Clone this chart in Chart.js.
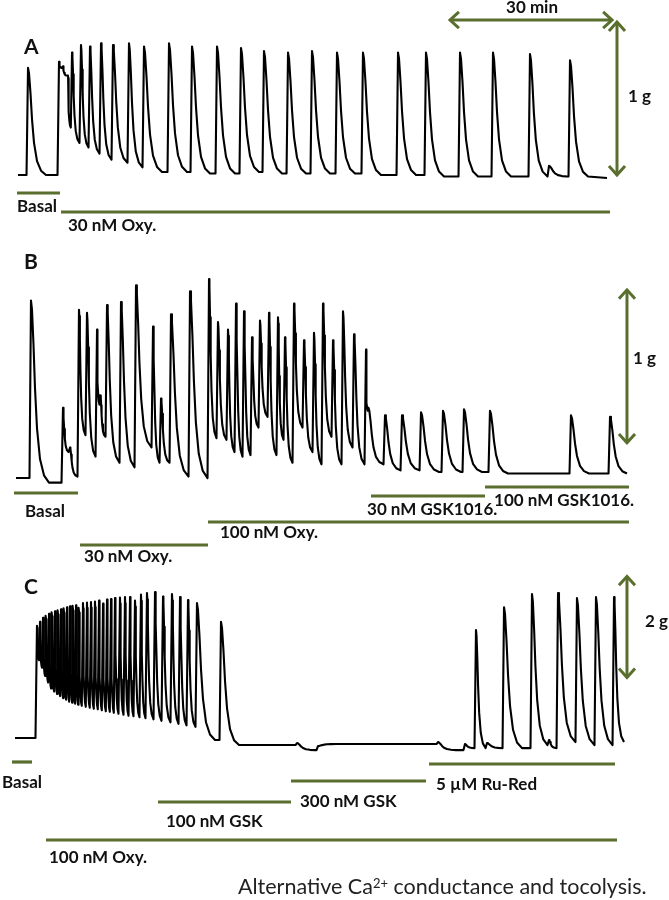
<!DOCTYPE html>
<html><head><meta charset="utf-8">
<script src="https://cdn.jsdelivr.net/npm/chart.js@4.4.0/dist/chart.umd.min.js"></script>
<style>
html,body{margin:0;padding:0;background:#fff;}
#wrap{position:relative;width:669px;height:900px;overflow:hidden;background:#fff;}
canvas{position:absolute;left:0;}
#caption{position:absolute;left:238px;top:873px;font-family:Lato,"Open Sans",sans-serif;font-size:21.5px;color:#222;white-space:nowrap;line-height:26px;}
#caption sup{font-size:13px;vertical-align:top;position:relative;top:-3px;}
</style></head><body>
<div id="wrap">
<canvas id="cA" width="669" height="245" style="top:0px"></canvas>
<canvas id="cB" width="669" height="320" style="top:245px"></canvas>
<canvas id="cC" width="669" height="335" style="top:565px"></canvas>
<div id="caption">Alternative Ca<sup>2+</sup> conductance and tocolysis.</div>
</div>
<script>
// ===================== DATA (time in min, force in g) =====================
// Panel A
const aStart = [0.56, 0.00];
const aEnd = [109.63, -0.02];
const aPeakTime = [2.41, 8.15, 8.89, 9.81, 10.56, 12.22, 13.89, 15.93, 18.15, 21.11, 23.89, 28.52, 32.78, 37.41, 41.85, 46.11, 50.56, 55.00, 59.63, 64.44, 70.93, 76.11, 82.41, 88.52, 95.37, 98.89, 102.78];
const aPeakForce = [0.70, 0.74, 0.71, 0.65, 0.80, 0.85, 0.84, 0.86, 0.85, 0.86, 0.84, 0.86, 0.84, 0.84, 0.83, 0.81, 0.80, 0.81, 0.80, 0.80, 0.80, 0.80, 0.80, 0.80, 0.79, 0.06, 0.75];
const aTroughForce = [0.00, 0.70, 0.65, 0.31, 0.21, 0.18, 0.14, 0.10, 0.08, 0.05, 0.02, 0.02, 0.01, 0.01, 0.02, 0.01, 0.01, 0.01, 0.01, 0.00, 0.00, -0.01, -0.01, -0.01, -0.01, -0.01, -0.01];
const aTreatNames = ['Basal', '30 nM Oxy.'];
const aTreatStart = [0.37, 8.52];
const aTreatEnd = [8.33, 110.19];
const aScaleNames = ['30 min', '1 g'];
const aScaleX0 = [80.56, 111.48];
const aScaleX1 = [110.56, 111.48];
const aScaleY0 = [1.013, 0];
const aScaleY1 = [1.013, 1];

// Panel B
const bStart = [0.19, -0.02];
const bEnd = [113.33, 0.01];
const bPeakTime = [2.96, 8.89, 10.19, 11.85, 13.33, 15.19, 15.83, 17.04, 19.63, 22.41, 25.56, 27.04, 28.89, 32.41, 35.93, 37.59, 39.44, 40.93, 42.41, 43.89, 45.37, 47.04, 48.70, 50.00, 51.67, 53.52, 55.37, 57.04, 58.89, 60.74, 62.78, 65.00, 65.46, 68.52, 71.67, 75.19, 79.26, 83.15, 87.96, 102.96, 110.19];
const bPeakForce = [1.14, 0.44, 0.18, 1.08, 1.06, 0.95, 0.52, 1.11, 1.13, 1.24, 0.97, 0.50, 1.05, 1.20, 1.28, 1.00, 0.95, 1.12, 1.07, 0.90, 1.01, 1.06, 1.03, 0.90, 1.12, 0.88, 0.93, 1.12, 0.88, 1.07, 0.92, 0.82, 0.44, 0.39, 0.39, 0.41, 0.42, 0.43, 0.42, 0.39, 0.38];
const bTroughForce = [-0.05, 0.15, -0.01, 0.26, 0.12, 0.46, 0.25, 0.08, 0.05, 0.18, 0.08, 0.08, -0.01, -0.02, 0.24, 0.23, 0.15, 0.12, 0.13, 0.31, 0.38, 0.13, 0.23, 0.08, 0.31, 0.15, 0.07, 0.25, 0.07, 0.18, 0.07, 0.42, 0.07, 0.03, 0.03, 0.02, 0.02, 0.02, 0.01, 0.01, 0.01];
const bTreatNames = ['Basal', '30 nM Oxy.', '100 nM Oxy.', '30 nM GSK1016.', '100 nM GSK1016.'];
const bTreatStart = [-0.19, 12.04, 35.74, 65.93, 87.04];
const bTreatEnd = [11.67, 35.74, 113.70, 87.04, 113.70];
const bScaleNames = ['1 g'];
const bScaleX0 = [113.33];
const bScaleX1 = [113.33];
const bScaleY0 = [0.21];
const bScaleY1 = [1.21];

// Panel C
const cStart = [0.00, 0.00];
const cEnd = [112.78, -0.08];
const cPeakTime = [4.07, 4.63, 5.19, 5.74, 6.30, 6.85, 7.41, 7.96, 8.52, 9.07, 9.63, 10.19, 10.74, 11.30, 11.85, 12.59, 13.33, 14.07, 14.81, 15.56, 16.30, 17.04, 17.78, 18.52, 19.44, 20.37, 21.30, 22.22, 23.33, 24.44, 25.93, 27.41, 29.07, 30.56, 32.04, 33.70, 38.15, 52.22, 56.11, 78.33, 83.33, 85.37, 87.41, 90.56, 95.74, 98.89, 100.56, 104.07, 107.59, 110.93];
const cPeakForce = [2.22, 2.30, 2.38, 2.42, 2.46, 2.49, 2.51, 2.53, 2.55, 2.57, 2.59, 2.61, 2.62, 2.63, 2.58, 2.67, 2.68, 2.69, 2.70, 2.72, 2.66, 2.74, 2.75, 2.77, 2.78, 2.79, 2.79, 2.72, 2.84, 2.87, 2.89, 2.80, 2.85, 2.79, 2.73, 2.67, 2.30, -0.10, -0.16, -0.08, -0.12, 2.14, -0.10, 2.59, 2.85, -0.04, 2.87, 2.77, 2.79, 2.79];
const cTroughForce = [1.54, 1.39, 1.23, 1.10, 0.98, 0.92, 0.87, 0.83, 0.79, 0.76, 0.72, 0.70, 0.68, 0.66, 0.64, 0.62, 0.60, 0.58, 0.57, 0.55, 0.53, 0.52, 0.50, 0.48, 0.46, 0.44, 0.43, 0.41, 0.39, 0.37, 0.34, 0.31, 0.28, 0.25, 0.22, -0.04, -0.14, -0.24, -0.12, -0.24, -0.20, -0.20, -0.20, -0.20, -0.14, -0.20, -0.08, -0.14, -0.14, -0.08];
const cTreatNames = ['Basal', '100 nM Oxy.', '100 nM GSK', '300 nM GSK', '5 \u00B5M Ru-Red'];
const cTreatStart = [-0.56, 5.74, 26.48, 51.11, 76.67];
const cTreatEnd = [3.15, 111.48, 51.11, 76.11, 111.11];
const cScaleNames = ['2 g'];
const cScaleX0 = [113.33];
const cScaleX1 = [113.33];
const cScaleY0 = [1.2];
const cScaleY1 = [3.2];

// ===================== LAYOUT / STYLE =====================
const PX_PER_MIN = 5.4;          // horizontal time scale shared by all panels
const X_MIN = -15 / PX_PER_MIN;
const X_MAX = (669 - 15) / PX_PER_MIN;
const GREEN = '#5a6f2e';
const INK = '#000000';
const LABEL_FONT = 'bold 17px Lato, "Open Sans", sans-serif';
const LETTER_FONT = 'bold 21px Lato, "Open Sans", sans-serif';

const panels = [
  { id:'cA', top:0, height:245, basePx:175, pxPerUnit:153, letter:['A',24,47],
    trace:[aPeakTime,aPeakForce,aTroughForce,aStart,aEnd],
    treat:[aTreatNames,aTreatStart,aTreatEnd], lanes:[193,212], lblDx:[0,7], lblDy:[14,14],
    scale:[aScaleNames,aScaleX0,aScaleX1,aScaleY0,aScaleY1], sDx:[1,11], sDy:[-12,-2], sAlign:['center','left'] },
  { id:'cB', top:245, height:320, basePx:475, pxPerUnit:153, letter:['B',24,262],
    trace:[bPeakTime,bPeakForce,bTroughForce,bStart,bEnd],
    treat:[bTreatNames,bTreatStart,bTreatEnd], lanes:[493,545,522,496,487], lblDx:[11,4,12,-4,9], lblDy:[19,12,11,14,14],
    scale:[bScaleNames,bScaleX0,bScaleX1,bScaleY0,bScaleY1], sDx:[6], sDy:[-8], sAlign:['left'] },
  { id:'cC', top:565, height:335, basePx:738, pxPerUnit:50.5, letter:['C',24,587],
    trace:[cPeakTime,cPeakForce,cTroughForce,cStart,cEnd],
    treat:[cTreatNames,cTreatStart,cTreatEnd], lanes:[762,840,802,781,764], lblDx:[-10,3,8,9,7], lblDy:[21,18,20,21,21],
    scale:[cScaleNames,cScaleX0,cScaleX1,cScaleY0,cScaleY1], sDx:[18], sDy:[-5], sAlign:['left'] }
];

// contraction waveform: sharp rise, fast then slow relaxation to the read trough level
function buildTrace(times, peaks, troughs, start, end) {
  const riseMax = 1.5 / PX_PER_MIN;
  const offs = [1, 2.5, 4, 6, 9, 13, 18].map(v => v / PX_PER_MIN);
  const fr = [0.95, 0.76, 0.52, 0.30, 0.13, 0.04, 0];
  const full = offs[offs.length - 1];
  const pts = [{x:start[0], y:start[1]}];
  let prev = start[1];
  for (let i = 0; i < times.length; i++) {
    const tp = times[i], P = peaks[i], T = troughs[i];
    const gapPrev = i > 0 ? tp - times[i-1] : tp - start[0];
    const rise = Math.min(riseMax, 0.3 * gapPrev);
    pts.push({x:tp - rise, y:prev});
    pts.push({x:tp, y:P});
    let nextStart;
    if (i < times.length - 1) {
      const g = times[i+1] - tp;
      nextStart = times[i+1] - Math.min(riseMax, 0.3 * g);
    } else nextStart = end[0];
    const k = Math.min(1, (nextStart - tp) / full);
    for (let j = 0; j < offs.length; j++) pts.push({x:tp + offs[j]*k, y:T + (P - T)*fr[j]});
    prev = T;
  }
  pts.push({x:end[0], y:end[1]});
  return pts;
}

function chevron(ctx, tx, ty, dx, dy) {
  const L = 12, ang = 42 * Math.PI / 180;
  const n = Math.hypot(dx, dy); dx /= n; dy /= n;
  const r = (a) => [dx*Math.cos(a) - dy*Math.sin(a), dx*Math.sin(a) + dy*Math.cos(a)];
  const [ax, ay] = r(ang), [bx, by] = r(-ang);
  ctx.beginPath();
  ctx.moveTo(tx - L*ax, ty - L*ay);
  ctx.lineTo(tx, ty);
  ctx.lineTo(tx - L*bx, ty - L*by);
  ctx.stroke();
}

panels.forEach(p => {
  const toVal = (pagePx) => (p.basePx - pagePx) / p.pxPerUnit;
  const yMax = toVal(p.top), yMin = toVal(p.top + p.height);
  const [tt, pf, tf, st, en] = p.trace;
  const datasets = [{
    data: buildTrace(tt, pf, tf, st, en),
    borderColor: INK, borderWidth: 2.1, pointRadius: 0, tension: 0, borderJoinStyle: 'round'
  }];
  const [tn, ts, te] = p.treat;
  tn.forEach((name, i) => {
    const yv = toVal(p.lanes[i]);
    datasets.push({ data:[{x:ts[i], y:yv}, {x:te[i], y:yv}], borderColor: GREEN, borderWidth: 3.2, pointRadius: 0, borderCapStyle:'butt' });
  });
  const [sn, sx0, sx1, sy0, sy1] = p.scale;
  sn.forEach((name, i) => {
    datasets.push({ data:[{x:sx0[i], y:sy0[i]}, {x:sx1[i], y:sy1[i]}], borderColor: GREEN, borderWidth: 3, pointRadius: 0 });
  });

  const annot = {
    id: 'annot' + p.id,
    afterDatasetsDraw(chart) {
      const ctx = chart.ctx, xs = chart.scales.x, ys = chart.scales.y;
      ctx.save();
      ctx.strokeStyle = GREEN; ctx.lineWidth = 3; ctx.lineJoin = 'miter'; ctx.lineCap = 'butt';
      sn.forEach((name, i) => {
        const x0 = xs.getPixelForValue(sx0[i]), y0 = ys.getPixelForValue(sy0[i]);
        const x1 = xs.getPixelForValue(sx1[i]), y1 = ys.getPixelForValue(sy1[i]);
        chevron(ctx, x1, y1, x1 - x0, y1 - y0);
        chevron(ctx, x0, y0, x0 - x1, y0 - y1);
        ctx.fillStyle = '#111'; ctx.font = LABEL_FONT; ctx.textBaseline = 'middle'; ctx.textAlign = p.sAlign[i];
        ctx.fillText(name, (x0 + x1)/2 + p.sDx[i], (y0 + y1)/2 + p.sDy[i]);
      });
      ctx.fillStyle = '#111'; ctx.font = LABEL_FONT; ctx.textBaseline = 'middle'; ctx.textAlign = 'left';
      tn.forEach((name, i) => {
        const x = xs.getPixelForValue(ts[i]) + p.lblDx[i];
        const y = ys.getPixelForValue(toVal(p.lanes[i])) + p.lblDy[i];
        ctx.fillText(name, x, y);
      });
      ctx.font = LETTER_FONT;
      ctx.fillText(p.letter[0], p.letter[1], p.letter[2] - p.top);
      ctx.restore();
    }
  };

  new Chart(document.getElementById(p.id), {
    type: 'line',
    data: { datasets },
    options: {
      responsive: false, animation: false, events: [],
      layout: { padding: 0 },
      plugins: { legend: { display: false }, tooltip: { enabled: false }, title: { display: false } },
      scales: {
        x: { type: 'linear', display: false, min: X_MIN, max: X_MAX },
        y: { type: 'linear', display: false, min: yMin, max: yMax }
      }
    },
    plugins: [annot]
  });
});
</script>
</body></html>
